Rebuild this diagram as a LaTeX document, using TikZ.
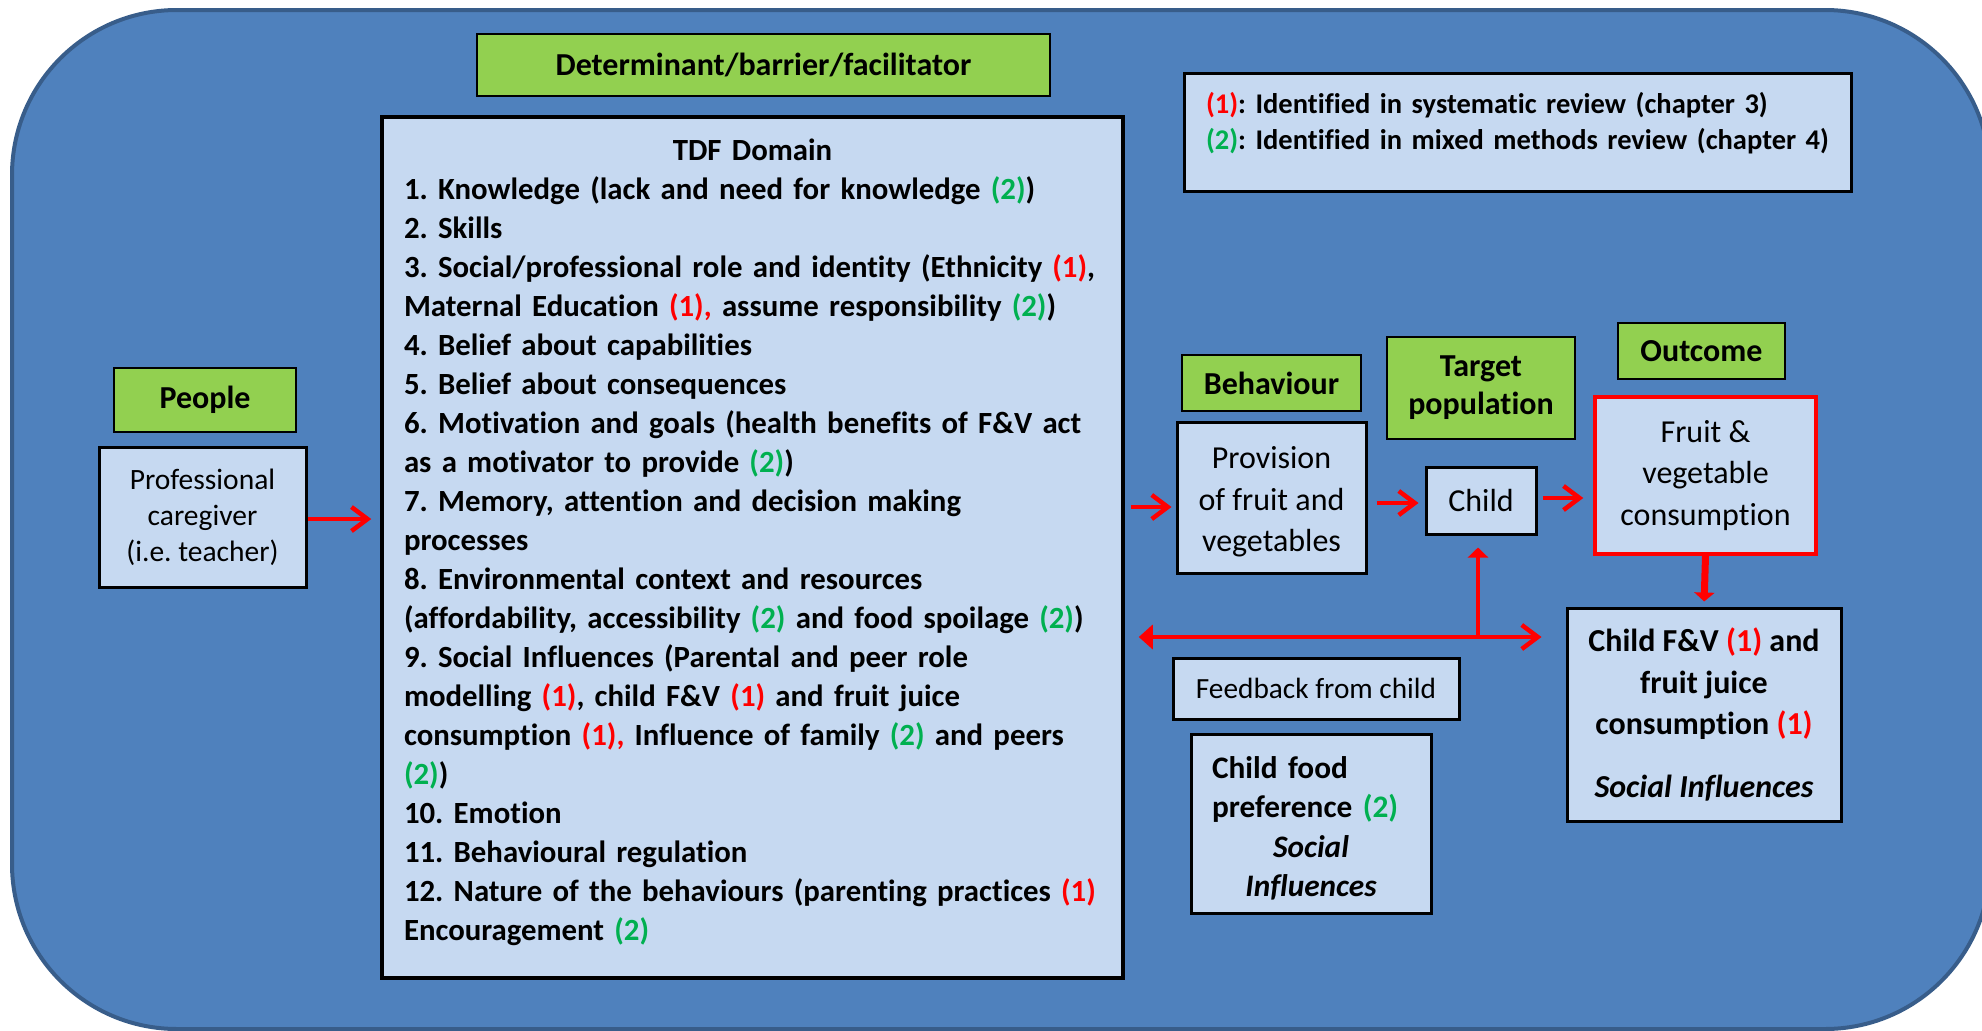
\documentclass[tikz,border=0pt]{standalone}
\usepackage{fontspec}
\setmainfont{Carlito}[Ligatures=NoCommon]
\usepackage{tikz}
\usetikzlibrary{arrows.meta, positioning}
\frenchspacing

\definecolor{bgblue}{HTML}{4F81BD}
\definecolor{edgeblue}{HTML}{385D8A}
\definecolor{boxblue}{HTML}{C6D9F1}
\definecolor{hdrgreen}{HTML}{92D050}
\definecolor{revred}{HTML}{FF0000}
\definecolor{revgreen}{HTML}{00B050}

\newcommand{\sysrev}[1][]{\textcolor{revred}{(1)#1}}
\newcommand{\mixrev}{\textcolor{revgreen}{(2)}}
% extra room below the last line of a text block
\newcommand{\padbelow}[1]{\par\vspace{#1}\hrule height 0pt width 0pt}

\begin{document}
\begin{tikzpicture}[
    x=1pt, y=-1pt,
    header/.style={rectangle, draw, line width=2.5pt, fill=hdrgreen, align=center, inner sep=0pt,
        font=\bfseries\fontsize{32}{38}\selectfont},
    box/.style={rectangle, draw, line width=3pt, fill=boxblue, align=center, inner sep=0pt,
        font=\fontsize{32}{41.5}\selectfont},
    arrow/.style={draw=revred, line width=4.5pt, -{Straight Barb[length=16pt, width=24pt]}},
    uparrow/.style={draw=revred, line width=4pt, -{Triangle[length=10pt, width=20pt]}}
]
    \clip (0,0) rectangle (1982,1031);
    \draw[edgeblue, fill=bgblue, line width=4pt, rounded corners=165pt] (12,10) rectangle (1990,1029);

    % headers
    \node[header, minimum width=573, minimum height=62] (det) at (763.5,65) {Determinant/barrier/facilitator};
    \node[header, minimum width=182, minimum height=64] (people) at (205,400) {People};
    \node[header, minimum width=179, minimum height=56] (behav) at (1271.5,383) {Behaviour};
    \node[header, minimum width=188, minimum height=102] (target) at (1481,388) {Target\\population};
    \node[header, minimum width=167, minimum height=56] (outcome) at (1701.5,351) {Outcome};

    % boxes
    \node[box, minimum width=207, minimum height=140, font=\fontsize{29.5}{36}\selectfont] (carer) at (202.5,517)
        {Professional\\caregiver\\(i.e. teacher)};
    \node[box, line width=3.5pt, minimum width=741, minimum height=861, text width=697, align=left,
        font=\bfseries\fontsize{30.8}{39}\selectfont] (tdf) at (752.5,547.5)
        {\makebox[697pt]{TDF Domain}\\
        1. Knowledge (lack and need for knowledge \mixrev)\\
        2. Skills\\
        3. Social/professional role and identity (Ethnicity \sysrev,\\
        Maternal Education \sysrev[,] assume responsibility \mixrev)\\
        4. Belief about capabilities\\
        5. Belief about consequences\\
        6. Motivation and goals (health benefits of F\&V act\\
        as a motivator to provide \mixrev)\\
        7. Memory, attention and decision making\\
        processes\\
        8. Environmental context and resources\\
        (affordability, accessibility \mixrev{} and food spoilage \mixrev)\\
        9. Social Influences (Parental and peer role\\
        modelling \sysrev, child F\&V \sysrev{} and fruit juice\\
        consumption \sysrev[,] Influence of family \mixrev{} and peers\\
        \mixrev)\\
        10. Emotion\\
        11. Behavioural regulation\\
        12. Nature of the behaviours (parenting practices \sysrev\\
        Encouragement \mixrev\padbelow{10pt}};
    \node[box, minimum width=667, minimum height=118, text width=623, align=left,
        font=\bfseries\fontsize{28.5}{36}\selectfont] (legend) at (1517.5,132)
        {\mbox{\sysrev: Identified in systematic review (chapter 3)}\\
        \mbox{\mixrev: Identified in mixed methods review (chapter 4)}\padbelow{18pt}};
    \node[box, minimum width=189, minimum height=151] (provision) at (1271.5,497.5)
        {\rule{0pt}{31pt}Provision\\of fruit and\\vegetables};
    \node[box, minimum width=110, minimum height=67] (child) at (1481,500.5) {Child};
    \node[box, draw=revred, line width=3.5pt, minimum width=221, minimum height=157] (fruit) at (1705.5,475.5)
        {Fruit \&\\vegetable\\consumption};
    \node[box, minimum width=274, minimum height=213, font=\bfseries\fontsize{32}{41.5}\selectfont] (cfv) at (1704,714.5)
        {Child F\&V \sysrev{} and\\fruit juice\\consumption \sysrev\\[21pt]\textit{Social Influences}};
    \node[box, minimum width=286, minimum height=61, font=\fontsize{29.3}{36}\selectfont] (feedback) at (1316,688.5)
        {Feedback from child};
    \node[box, minimum width=240, minimum height=179, text width=198, font=\bfseries\fontsize{31.3}{39.5}\selectfont] (pref) at (1311,823.5)
        {{\raggedright\rule{0pt}{31.5pt}Child food\\preference \mixrev\par}{\centering\itshape Social\\Influences\par}};

    % connectors
    \coordinate (fb) at (1478,637);
    \draw[arrow, shorten >=9pt] (carer.east |- 0,519) -- (tdf.west |- 0,519);
    \draw[arrow, shorten <=6pt, shorten >=4pt] (tdf.east |- 0,507) -- (provision.west |- 0,507);
    \draw[arrow, shorten <=9pt, shorten >=6pt] (provision.east |- 0,503) -- (child.west |- 0,503);
    \draw[arrow, shorten <=5pt, shorten >=10pt] (child.east |- 0,498) -- (fruit.west |- 0,498);
    \draw[draw=revred, line width=7pt, -{Triangle[length=9pt, width=20pt]}, shorten >=5pt] (fruit.south) -- (cfv.north);
    \draw[uparrow, shorten >=12pt] (fb) -- (fb |- child.south);
    \draw[draw=revred, line width=4.5pt, {Triangle[length=14pt, width=24pt]}-{Straight Barb[length=16pt, width=24pt]},
        shorten <=14pt, shorten >=24pt] (tdf.east |- fb) -- (cfv.west |- fb);
\end{tikzpicture}
\end{document}
